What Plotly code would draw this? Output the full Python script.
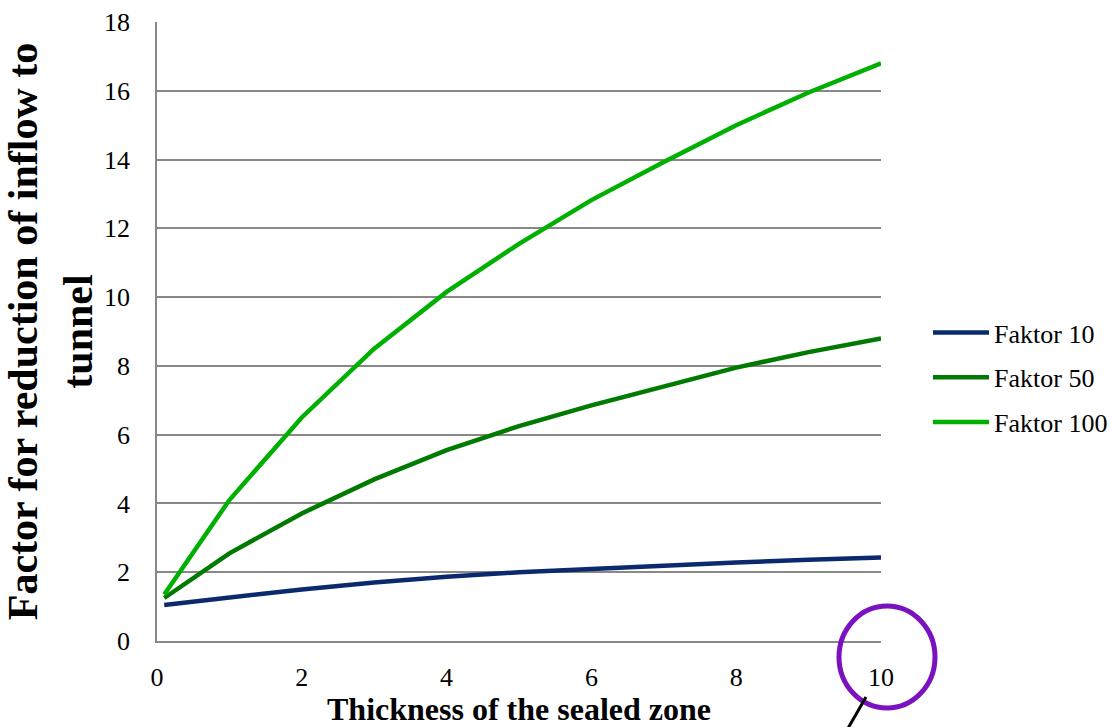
import plotly.graph_objects as go

# Thickness of the sealed zone
thickness = [0.1, 1, 2, 3, 4, 5, 6, 7, 8, 9, 10]

# Reduction factor of inflow for each sealing factor
faktor_10 = [1.05, 1.27, 1.50, 1.70, 1.87, 2.00, 2.10, 2.20, 2.28, 2.36, 2.43]
faktor_50 = [1.25, 2.55, 3.71, 4.70, 5.55, 6.25, 6.85, 7.40, 7.95, 8.40, 8.80]
faktor_100 = [1.35, 4.10, 6.50, 8.50, 10.15, 11.55, 12.82, 13.93, 15.00, 15.95, 16.80]

series_names = ["Faktor 10", "Faktor 50", "Faktor 100"]
series_values = [faktor_10, faktor_50, faktor_100]
series_colors = ["#0b2a6e", "#007a00", "#00b000"]

x_ticks = [0, 2, 4, 6, 8, 10]
y_ticks = [0, 2, 4, 6, 8, 10, 12, 14, 16, 18]

W, H = 1110, 727
L, R, T, B = 157, 229, 22, 86
PW, PH = W - L - R, H - T - B


def px(x):
    return (x - L) / PW


def py(y):
    return (H - B - y) / PH


fig = go.Figure()
for i, (name, vals, col) in enumerate(zip(series_names, series_values, series_colors)):
    fig.add_trace(go.Scatter(
        x=thickness, y=vals, mode="lines", name=name,
        line=dict(color=col, width=4.5),
        legendgroup=f"g{i}",
    ))

serif = "Liberation Serif"

fig.update_layout(
    width=W, height=H,
    margin=dict(l=L, r=R, t=T, b=B, autoexpand=False),
    paper_bgcolor="white", plot_bgcolor="white",
    font=dict(family=serif, color="black", size=24),
    showlegend=True,
    legend=dict(
        x=px(928), y=py(309), xanchor="left", yanchor="top",
        font=dict(family=serif, size=26, color="black"),
        tracegroupgap=8, itemwidth=56, bgcolor="rgba(0,0,0,0)",
    ),
    xaxis=dict(
        range=[0, 10], tickvals=x_ticks, showgrid=False, zeroline=False,
        showline=True, linecolor="#888888", linewidth=1.5,
        ticks="outside", ticklen=12, tickcolor="rgba(0,0,0,0)",
        tickfont=dict(family=serif, size=26, color="black"),
        title=dict(text="<b>Thickness of the sealed zone</b>",
                   font=dict(family=serif, size=32, color="black"), standoff=8),
    ),
    yaxis=dict(
        range=[0, 18], tickvals=y_ticks, showgrid=True, gridcolor="#888888",
        gridwidth=1.5, zeroline=False,
        showline=True, linecolor="#888888", linewidth=1.5,
        ticks="outside", ticklen=20, tickcolor="rgba(0,0,0,0)",
        tickfont=dict(family=serif, size=26, color="black"),
        title=dict(text="<b>Factor for reduction of inflow to<br>tunnel</b>",
                   font=dict(family=serif, size=42, color="black"), standoff=10),
    ),
    shapes=[
        dict(type="circle", xref="paper", yref="paper",
             x0=px(839), x1=px(935), y0=py(708), y1=py(606),
             line=dict(color="#7a12c0", width=5)),
        dict(type="line", xref="paper", yref="paper",
             x0=px(866), y0=py(697), x1=px(847), y1=py(730),
             line=dict(color="black", width=3)),
    ],
)

fig.write_html("out.html")
